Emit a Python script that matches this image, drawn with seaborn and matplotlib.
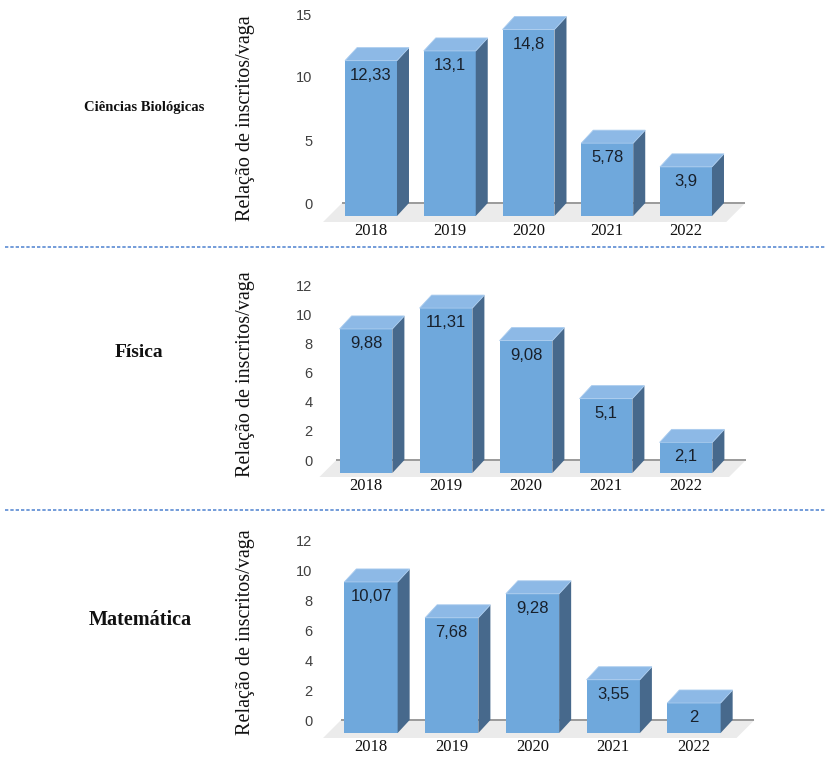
import numpy as np
import matplotlib
matplotlib.use("Agg")
import matplotlib.pyplot as plt
from matplotlib.patches import Polygon
import seaborn as sns

# --- dados ---
anos = ["2018", "2019", "2020", "2021", "2022"]
cursos = ["Ciências Biológicas", "Física", "Matemática"]
bio = [12.33, 13.1, 14.8, 5.78, 3.9]
fis = [9.88, 11.31, 9.08, 5.1, 2.1]
mat = [10.07, 7.68, 9.28, 3.55, 2.0]
rotulos_bio = ["12,33", "13,1", "14,8", "5,78", "3,9"]
rotulos_fis = ["9,88", "11,31", "9,08", "5,1", "2,1"]
rotulos_mat = ["10,07", "7,68", "9,28", "3,55", "2"]
ticks_bio = [0, 5, 10, 15]
ticks_fis = [0, 2, 4, 6, 8, 10, 12]
ticks_mat = [0, 2, 4, 6, 8, 10, 12]

FRENTE = "#6FA8DC"
LADO = "#47698C"
TOPO = "#8DB9E6"
CHAO = "#EBEBEB"
SERIF = "Liberation Serif"
SANS = "Liberation Sans"

sns.set_theme(style="white")
plt.rcParams["font.family"] = [SANS, "DejaVu Sans"]

W, H = 825, 761
fig = plt.figure(figsize=(W / 100, H / 100), dpi=100, facecolor="white")

# layout em pixels: (centro cat 0 no plano de tras, px por categoria, y do zero, px por unidade, topo, base)
paineis = [
    (cursos[0], bio, rotulos_bio, ticks_bio, 383, 78.75, 203, 12.6, 5, 222, 10.5, (144, 108), (255, 118)),
    (cursos[1], fis, rotulos_fis, ticks_fis, 378, 80.0, 460, 14.58, 275, 477, 14, (139, 352), (255, 374)),
    (cursos[2], mat, rotulos_mat, ticks_mat, 383, 80.75, 720, 15.0, 530, 738, 14.5, (140, 620), (255, 632)),
]
L, R = 318, 760
DX, DY = 12, 13          # profundidade das barras (px)
FX, FY = 19, 19          # profundidade do chao (px)

for (nome, vals, rots, yt, c0, ppx, y0, ppu, T, B, fs_nome, pos_nome, pos_ylab) in paineis:
    ax = fig.add_axes([L / W, 1 - B / H, (R - L) / W, (B - T) / H])
    sns.barplot(x=anos, y=vals, ax=ax, color=FRENTE, width=0.66,
                saturation=1, zorder=3)
    ax.set_xlim((L - c0) / ppx, (R - c0) / ppx)
    ax.set_ylim((y0 - B) / ppu, (y0 - T) / ppu)
    dxd, dyd = DX / ppx, DY / ppu
    fxd, fyd = FX / ppx, FY / ppu

    # chao
    xa, xb = -0.52, len(anos) - 1 + 0.6
    ax.add_patch(Polygon([(xa, 0), (xb, 0), (xb - fxd, -fyd), (xa - fxd, -fyd)],
                         closed=True, facecolor=CHAO, edgecolor="none", zorder=1))
    ax.plot([xa, xb], [0, 0], color="#9A9A9A", lw=1.4, zorder=2, solid_capstyle="butt")

    # barras 3d: frente deslocada, lado e topo
    for p, txt in zip(ax.patches[:len(vals)], rots):
        h = p.get_height()
        p.set_x(p.get_x() - dxd)
        p.set_y(-dyd)
        p.set_edgecolor("none")
        xl = p.get_x()
        xr = xl + p.get_width()
        ax.add_patch(Polygon([(xr, -dyd), (xr + dxd, 0), (xr + dxd, h), (xr, h - dyd)],
                             closed=True, facecolor=LADO, edgecolor="none", zorder=3))
        ax.add_patch(Polygon([(xl, h - dyd), (xl + dxd, h), (xr + dxd, h), (xr, h - dyd)],
                             closed=True, facecolor=TOPO, edgecolor="#A9CBEE", lw=0.6, zorder=3))
        ax.annotate(txt, xy=((xl + xr) / 2, h - dyd), xytext=(0, -10.5),
                    textcoords="offset points", ha="center", va="center",
                    fontsize=12, color="#18202B", family=SANS, zorder=5)

    ax.set_xticks(np.arange(len(anos)) - dxd)
    ax.set_xticklabels(anos, family=SERIF, fontsize=12, color="#111111")
    ax.set_yticks(yt)
    ax.set_yticklabels([str(t) for t in yt], family=SANS, fontsize=10.5, color="#404040")
    ax.tick_params(axis="both", length=0)
    ax.tick_params(axis="x", pad=1)
    ax.tick_params(axis="y", pad=4)
    ax.set_xlabel("")
    ax.set_ylabel("Relação de inscritos/vaga", family=SERIF, fontsize=14.5, color="#111111")
    ax.yaxis.set_label_coords((pos_ylab[0] - L) / (R - L), (B - pos_ylab[1]) / (B - T))
    for s in ax.spines.values():
        s.set_visible(False)
    ax.set_facecolor("none")
    ax.grid(False)

    fig.text(pos_nome[0] / W, 1 - pos_nome[1] / H, nome, family=SERIF, fontsize=fs_nome,
             fontweight="bold", ha="center", va="center", color="#111111")

# separadores tracejados
for yy in [247, 510]:
    fig.add_artist(plt.Line2D([5 / W, 1], [1 - yy / H, 1 - yy / H], transform=fig.transFigure,
                              color="#5B8BD3", lw=1.2, linestyle=(0, (2, 1.2))))

fig.savefig("out.png", dpi=100, facecolor="white")
